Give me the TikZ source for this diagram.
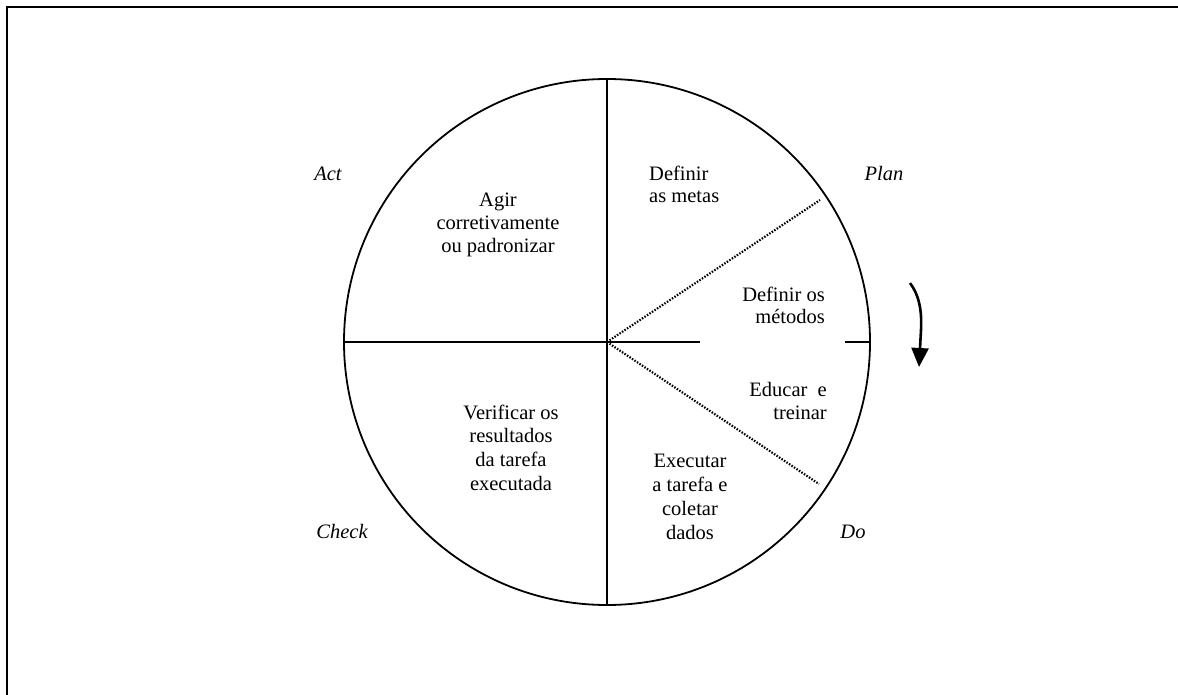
\documentclass[tikz,border=0pt]{standalone}
\usepackage{fontspec}
\setmainfont{Liberation Serif}
\usetikzlibrary{arrows.meta}
\begin{document}
\begin{tikzpicture}[x=1pt,y=-1pt,
  frame/.style={line width=2.2pt},
  wheel/.style={line width=1.8pt},
  divider/.style={line width=1.4pt},
  dotline/.style={line width=2.2pt,dash pattern=on 1.5pt off 1.5pt},
  turn/.style={line width=2.6pt,-{Triangle[length=19pt,width=17pt]}},
  lbl/.style={inner sep=0pt,font=\fontsize{20.5}{23}\selectfont},
  phase/.style={lbl,font=\fontsize{20.5}{23}\selectfont\itshape}]
\useasboundingbox (0,0) rectangle (1178,695);
% frame: top and left rules
\coordinate (fo) at (7,7);
\coordinate (fr) at (1178,7);
\coordinate (fb) at (7,695);
\draw[frame] (fr) -- (fo) -- (fb);
% the wheel
\coordinate (c) at (607,342);
\draw[wheel] (c) circle (263);
\coordinate (top) at (607,80);
\coordinate (bot) at (607,605);
\coordinate (lft) at (344,342);
\coordinate (gapa) at (700,342);
\coordinate (gapb) at (845,342);
\coordinate (rgt) at (869,342);
\draw[divider] (top) -- (bot);
\draw[divider] (lft) -- (gapa);
\draw[divider] (gapb) -- (rgt);
% dotted sub-dividers of Plan and Do
\coordinate (dp) at (820,200);
\coordinate (dd) at (819,484);
\draw[dotline] (c) -- (dp);
\draw[dotline] (c) -- (dd);
% direction of rotation
\coordinate (ra) at (910,283);
\coordinate (rb) at (919,367);
\draw[turn] (ra) .. controls (919,295) and (922,310) .. (921,330) -- (rb);
% phase names
\node[phase,anchor=base] (act) at (328,181) {Act};
\node[phase,anchor=base] (plan) at (884,181) {Plan};
\node[phase,anchor=base] (check) at (342,538) {Check};
\node[phase,anchor=base] (do) at (853,538) {Do};
% sector texts
\node[lbl,anchor=base] (agir) at (498,207)
  {\begin{tabular}[t]{@{}c@{}}Agir\\corretivamente\\ou padronizar\end{tabular}};
\node[lbl,anchor=base west] (metas) at (649,181)
  {\fontsize{20.5}{22}\selectfont\begin{tabular}[t]{@{}l@{}}Definir\\as metas\end{tabular}};
\node[lbl,anchor=base east] (metodos) at (825,301)
  {\fontsize{20.5}{22}\selectfont\begin{tabular}[t]{@{}r@{}}Definir os\\métodos\end{tabular}};
\node[lbl,anchor=base east] (educar) at (827,396)
  {\begin{tabular}[t]{@{}r@{}}Educar\ \ e\\treinar\end{tabular}};
\node[lbl,anchor=base] (executar) at (690,467)
  {\fontsize{20.5}{24}\selectfont\begin{tabular}[t]{@{}c@{}}Executar\\a tarefa e\\coletar\\dados\end{tabular}};
\node[lbl,anchor=base] (verificar) at (511,419)
  {\fontsize{20.5}{23.7}\selectfont\begin{tabular}[t]{@{}c@{}}Verificar os\\resultados\\da tarefa\\executada\end{tabular}};
\end{tikzpicture}
\end{document}
